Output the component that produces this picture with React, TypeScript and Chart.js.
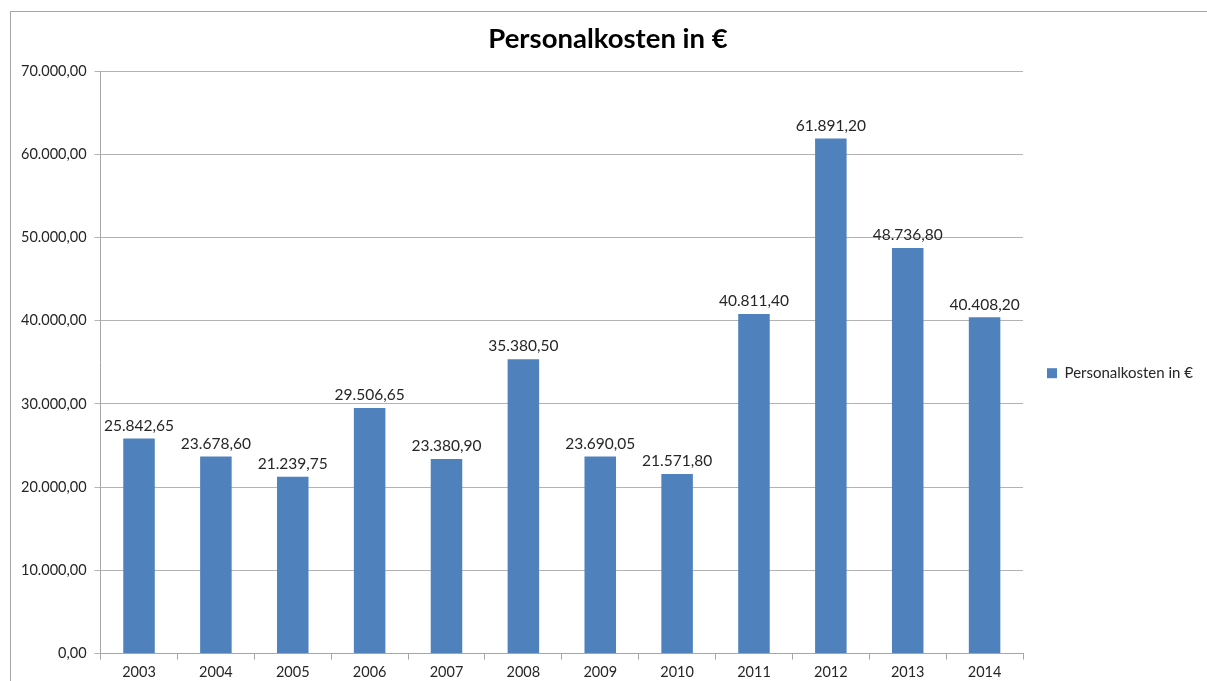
import React, { useEffect, useRef } from "react";
import { Chart, registerables } from "chart.js";

Chart.register(...registerables);

const years = ["2003", "2004", "2005", "2006", "2007", "2008", "2009", "2010", "2011", "2012", "2013", "2014"];
const personalkosten = [25842.65, 23678.6, 21239.75, 29506.65, 23380.9, 35380.5, 23690.05, 21571.8, 40811.4, 61891.2, 48736.8, 40408.2];
const seriesName = "Personalkosten in €";
const chartTitle = "Personalkosten in €";

const FONT = "Lato, 'Open Sans', sans-serif";
const fmt = (v: number) =>
  v.toLocaleString("de-DE", { minimumFractionDigits: 2, maximumFractionDigits: 2 });

const framePlugin = {
  id: "frame",
  beforeDraw(chart: any) {
    const ctx = chart.ctx;
    ctx.save();
    ctx.fillStyle = "#ffffff";
    ctx.fillRect(0, 0, chart.width, chart.height);
    ctx.strokeStyle = "#a6a6a6";
    ctx.lineWidth = 1;
    ctx.strokeRect(10.5, 11.5, 1400, 900);
    ctx.restore();
  },
};

const labelPlugin = {
  id: "barLabels",
  afterDatasetsDraw(chart: any) {
    const ctx = chart.ctx;
    const meta = chart.getDatasetMeta(0);
    const data = chart.data.datasets[0].data as number[];
    ctx.save();
    ctx.font = `15.5px ${FONT}`;
    ctx.fillStyle = "#262626";
    ctx.textAlign = "center";
    ctx.textBaseline = "bottom";
    meta.data.forEach((bar: any, i: number) => {
      ctx.fillText(fmt(data[i]), bar.x, bar.y - 5);
    });
    ctx.restore();
  },
};

export default function App() {
  const ref = useRef<HTMLCanvasElement>(null);
  useEffect(() => {
    document.body.style.margin = "0";
    const chart = new Chart(ref.current!, {
      type: "bar",
      data: {
        labels: years,
        datasets: [
          {
            label: seriesName,
            data: personalkosten,
            backgroundColor: "#4f81bd",
            borderWidth: 0,
            categoryPercentage: 1,
            barPercentage: 0.41,
          },
        ],
      },
      options: {
        responsive: false,
        animation: false,
        layout: { padding: { left: 13, top: 23, right: 4, bottom: -4 } },
        plugins: {
          title: {
            display: true,
            text: chartTitle,
            font: { family: FONT, size: 27.5, weight: "bold" },
            color: "#000000",
            padding: { top: 0, bottom: 15 },
          },
          legend: {
            position: "right",
            title: {
              display: true,
              text: " ",
              font: { family: FONT, size: 12 },
              padding: 12,
            },
            labels: {
              font: { family: FONT, size: 15 },
              color: "#262626",
              boxWidth: 10,
              boxHeight: 10,
              padding: 24,
            },
          },
          tooltip: { enabled: false },
        },
        scales: {
          x: {
            grid: {
              display: true,
              drawOnChartArea: false,
              drawTicks: true,
              tickLength: 6,
              color: "#a6a6a6",
              offset: true,
            },
            border: { color: "#a6a6a6" },
            ticks: { font: { family: FONT, size: 14.5 }, color: "#262626", padding: 4 },
          },
          y: {
            min: 0,
            max: 70000,
            ticks: {
              stepSize: 10000,
              callback: (v: any) => fmt(Number(v)),
              font: { family: FONT, size: 14.5 },
              color: "#262626",
              padding: 8,
            },
            grid: { color: "#b3b3b3", tickLength: 6 },
            border: { color: "#a6a6a6" },
          },
        },
      },
      plugins: [framePlugin, labelPlugin],
    });
    return () => chart.destroy();
  }, []);
  return (
    <div style={{ width: 1207, height: 681 }}>
      <canvas ref={ref} width={1207} height={681} />
    </div>
  );
}
